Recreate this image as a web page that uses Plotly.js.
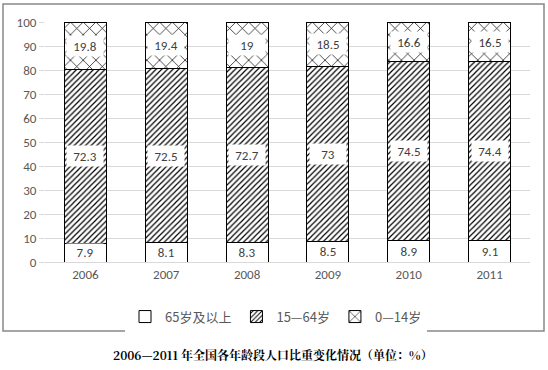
<!DOCTYPE html>
<html><head><meta charset="utf-8">
<script src="https://cdn.plot.ly/plotly-3.0.1.min.js"></script>
<style>body{margin:0;background:#fff}#c{width:548px;height:370px}</style>
</head><body><div id="c"></div>
<script>
const years = ['2006','2007','2008','2009','2010','2011'];
const age65 = [7.9, 8.1, 8.3, 8.5, 8.9, 9.1];
const age15_64 = [72.3, 72.5, 72.7, 73, 74.5, 74.4];
const age0_14 = [19.8, 19.4, 19, 18.5, 16.6, 16.5];
const names = ['65岁及以上', '15—64岁', '0—14岁'];
const yTicks = [0,10,20,30,40,50,60,70,80,90,100];

const numFont = 'Carlito, "Noto Sans", "Liberation Sans", sans-serif';
const cjkFont = '"Noto Sans CJK SC", "Noto Sans", sans-serif';
const line = {color:'#000', width:1};
const traces = [
  {type:'bar', name:names[0], x:years, y:age65, marker:{color:'#fff', line:line}},
  {type:'bar', name:names[1], x:years, y:age15_64, marker:{color:'#fff', line:line, pattern:{shape:'/', size:4, solidity:0.3, fgcolor:'#000', bgcolor:'#fff'}}},
  {type:'bar', name:names[2], x:years, y:age0_14, marker:{color:'#fff', line:line, pattern:{shape:'x', size:9, solidity:0.15, fgcolor:'#000', bgcolor:'#fff'}}}
];

const annotations = [];
years.forEach((yr, i) => {
  const segs = [
    [age65[i]/2, age65[i], 17],
    [age65[i] + age15_64[i]/2, age15_64[i], 20],
    [age65[i] + age15_64[i] + age0_14[i]/2, age0_14[i], 20]
  ];
  segs.forEach(([pos, v, h]) => {
    annotations.push({x: i, y: pos, xref:'x', yref:'y', text: String(v), showarrow:false,
      width:36, height:h, bgcolor:'#fff', font:{family:numFont, size:13, color:'#404040'}, borderpad:0});
  });
});
annotations.push({xref:'paper', yref:'paper', x:(273-45)/485, y:-0.385, xanchor:'center', yanchor:'middle',
  text:'<b>2006—2011 年全国各年龄段人口比重变化情况（单位：%）</b>', showarrow:false,
  font:{family:'"Noto Serif CJK SC", "Noto Sans CJK SC", serif', size:12, color:'#000'}});

const layout = {
  width:548, height:370,
  margin:{l:45, r:18, t:22, b:108},
  barmode:'stack', bargap:0.48,
  paper_bgcolor:'#fff', plot_bgcolor:'#fff',
  showlegend:true,
  legend:{orientation:'h', x:(276-45)/485, xanchor:'center', y:-0.165, yanchor:'top',
    font:{family:cjkFont, size:13, color:'#595959'}, traceorder:'normal'},
  xaxis:{type:'category', range:[-0.5,5.5], showline:true, linecolor:'#d9d9d9', linewidth:1, ticks:'',
    tickfont:{family:numFont, size:13, color:'#595959'}, showgrid:false, fixedrange:true},
  yaxis:{range:[0,100], tickvals:yTicks, ticktext:yTicks.map(String), showgrid:true, gridcolor:'#d9d9d9',
    ticks:'outside', ticklen:5, tickcolor:'#d9d9d9', showline:false, zeroline:false,
    tickfont:{family:numFont, size:13, color:'#595959'}, fixedrange:true},
  annotations: annotations,
  shapes:[{type:'rect', xref:'paper', yref:'paper', x0:(3-45)/485, x1:(544-45)/485, y0:(262-331)/240, y1:(262-4)/240,
    line:{color:'#888', width:1.5}, fillcolor:'rgba(0,0,0,0)', layer:'below'}]
};
Plotly.newPlot('c', traces, layout, {displayModeBar:false, staticPlot:true});
</script></body></html>
